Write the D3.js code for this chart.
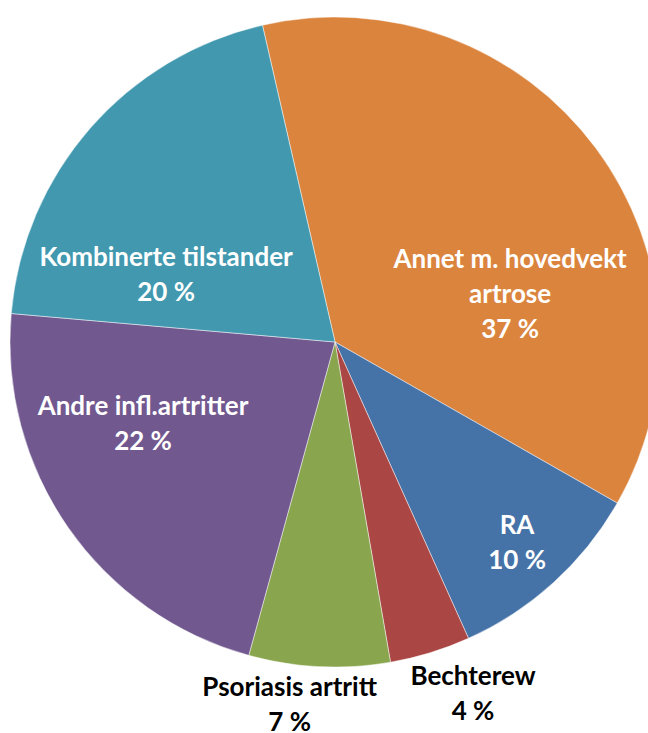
<!DOCTYPE html>
<html>
<head>
<meta charset="utf-8">
<script src="https://cdn.jsdelivr.net/npm/d3@7"></script>
<style>
  html, body { margin: 0; padding: 0; background: #fff; }
  svg { display: block; }
</style>
</head>
<body>
<svg id="chart" width="648" height="733"></svg>
<script>
// ---- data ----
const categories = ["Annet m. hovedvekt artrose", "RA", "Bechterew", "Psoriasis artritt", "Andre infl.artritter", "Kombinerte tilstander"];
const labelLines = [["Annet m. hovedvekt", "artrose"], ["RA"], ["Bechterew"], ["Psoriasis artritt"], ["Andre infl.artritter"], ["Kombinerte tilstander"]];
const values = [36.8, 10.0, 4.0, 7.0, 22.1, 20.0];
const percentLabels = ["37 %", "10 %", "4 %", "7 %", "22 %", "20 %"];

// ---- layout / style ----
const colors = ["#DB843D", "#4572A7", "#AA4643", "#89A54E", "#71588F", "#4198AF"];
const textColors = ["#fff", "#fff", "#000", "#000", "#fff", "#fff"];
// label block anchor (mean baseline) in polar form: degrees clockwise from 12 o'clock, distance as fraction of radius
const labelAngle = [77.4, 138.95, 159.05, 186.96, 244.77, 289.1];
const labelDist = [0.552, 0.853, 1.188, 1.152, 0.653, 0.550];

const W = 648, H = 733;
const cx = 335, cy = 342, R = 325;
const fontSize = 26, lineH = 35;
const startDeg = -12.9;

const svg = d3.select("#chart");
const g = svg.append("g").attr("transform", `translate(${cx},${cy})`);

const pie = d3.pie().sort(null).value(d => d)
  .startAngle(startDeg * Math.PI / 180)
  .endAngle((startDeg + 360) * Math.PI / 180);
const arcs = pie(values);
const arc = d3.arc().innerRadius(0).outerRadius(R);

g.selectAll("path.slice").data(arcs).enter().append("path")
  .attr("class", "slice")
  .attr("d", arc)
  .attr("fill", (d, i) => colors[i])
  .attr("stroke", "#ffffff")
  .attr("stroke-opacity", 0.6)
  .attr("stroke-width", 0.8)
  .attr("stroke-linejoin", "round");

g.selectAll("text.lbl").data(arcs).enter().append("text")
  .attr("class", "lbl")
  .attr("text-anchor", "middle")
  .attr("font-family", "Lato, 'Open Sans', sans-serif")
  .attr("font-weight", "bold")
  .attr("font-size", fontSize)
  .attr("fill", (d, i) => textColors[i])
  .each(function(d, i) {
    const lines = labelLines[i].concat([percentLabels[i]]);
    const a = labelAngle[i] * Math.PI / 180;
    const r = labelDist[i] * R;
    const x = r * Math.sin(a), y = -r * Math.cos(a);
    const n = lines.length;
    const t = d3.select(this);
    lines.forEach((ln, k) => {
      t.append("tspan")
        .attr("x", x)
        .attr("y", y + (k - (n - 1) / 2) * lineH)
        .text(ln);
    });
  });
</script>
</body>
</html>
